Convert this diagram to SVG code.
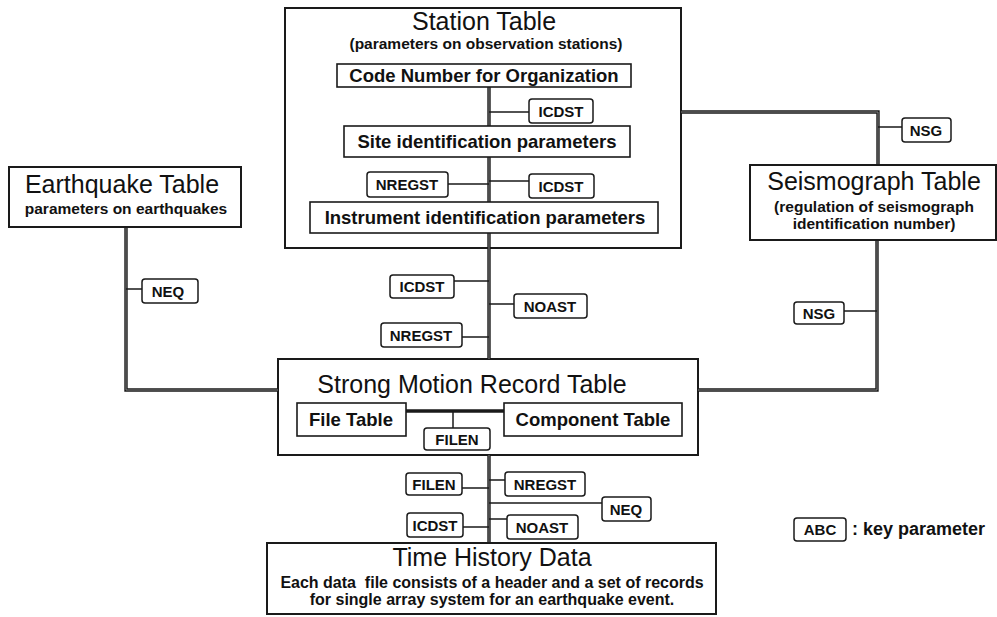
<svg xmlns="http://www.w3.org/2000/svg" width="997" height="617" viewBox="0 0 997 617">
<style>
  .box { fill: #fff; stroke: #1a1a1a; stroke-width: 2; }
  .frame { fill: none; stroke: #1a1a1a; stroke-width: 2; }
  .inner { fill: #fff; stroke: #1a1a1a; stroke-width: 1.6; }
  .key { fill: #fff; stroke: #1a1a1a; stroke-width: 1.5; }
  .main { fill: none; stroke: #1a1a1a; stroke-width: 3.4; }
  .core { fill: none; stroke: #8a8a8a; stroke-width: 0.9; }
  .thin { fill: none; stroke: #1a1a1a; stroke-width: 1.5; }
  text { font-family: "Liberation Sans", Arial, sans-serif; fill: #111; }
  .title { font-size: 25px; text-anchor: middle; }
  .sub { font-size: 15.5px; font-weight: bold; text-anchor: middle; }
  .lbl { font-size: 18.5px; font-weight: bold; text-anchor: middle; }
  .k { font-size: 15px; font-weight: bold; text-anchor: middle; }
</style>
<rect width="997" height="617" fill="#fff"/>

<g id="station-table">
  <rect class="frame" x="285" y="8" width="396" height="240"/>
  <text class="title" x="484" y="29.5">Station Table</text>
  <text class="sub" x="486" y="49">(parameters on observation stations)</text>
</g>

<g id="strong-motion-record-table">
  <rect class="frame" x="278" y="359" width="420" height="96"/>
  <text class="title" x="472" y="393">Strong Motion Record Table</text>
</g>

<g id="connectors">
  <!-- Station internal spine -->
  <path class="main" d="M489,86 V126 M489,157 V202 M489,233 V359"/>
  <path class="core" d="M489,86 V126 M489,157 V202 M489,233 V359"/>
  <!-- Station to Seismograph -->
  <path class="main" d="M681,112 H878 V165"/>
  <path class="core" d="M681,112 H878 V165"/>
  <!-- Seismograph to SMR -->
  <path class="main" d="M877,240 V390 H698"/>
  <path class="core" d="M877,240 V390 H698"/>
  <!-- Earthquake to SMR -->
  <path class="main" d="M126,227 V390 H278"/>
  <path class="core" d="M126,227 V390 H278"/>
  <!-- SMR to Time History -->
  <path class="main" d="M489,455 V543"/>
  <path class="core" d="M489,455 V543"/>
  <!-- File Table to Component Table -->
  <path class="main" d="M406,411 H504"/>
  <path class="thin" d="M453,411 V428"/>
  <!-- key parameter ties -->
  <path class="thin" d="M489,112 H529 M448,184 H489 M489,181 H529 M878,127 H902 M142,289 H126 M454,281 H489 M489,304 H514 M462,337 H489 M844,311 H877 M462,488 H489 M489,480 H505 M489,503 H602 M463,527 H489 M489,519 H507"/>
</g>

<g id="code-number">
  <rect class="inner" x="337" y="64" width="294" height="23"/>
  <text class="lbl" x="484" y="82">Code Number for Organization</text>
</g>
<g id="site-identification">
  <rect class="inner" x="344" y="126" width="286" height="31"/>
  <text class="lbl" x="487" y="148">Site identification parameters</text>
</g>
<g id="instrument-identification">
  <rect class="inner" x="310" y="202" width="348" height="31"/>
  <text class="lbl" x="485" y="224">Instrument identification parameters</text>
</g>

<g id="earthquake-table">
  <rect class="box" x="9" y="167" width="232" height="60"/>
  <text class="title" x="122" y="193">Earthquake Table</text>
  <text class="sub" x="126" y="214">parameters on earthquakes</text>
</g>

<g id="seismograph-table">
  <rect class="box" x="750" y="165" width="246" height="75"/>
  <text class="title" x="874" y="190">Seismograph Table</text>
  <text class="sub" x="874" y="212">(regulation of seismograph</text>
  <text class="sub" x="874" y="229">identification number)</text>
</g>

<g id="file-table">
  <rect class="inner" x="297" y="403" width="109" height="33"/>
  <text class="lbl" x="351" y="426">File Table</text>
</g>
<g id="component-table">
  <rect class="inner" x="504" y="403" width="178" height="33"/>
  <text class="lbl" x="593" y="426">Component Table</text>
</g>

<g id="time-history-data">
  <rect class="box" x="267" y="543" width="449" height="71"/>
  <text class="title" x="492" y="566">Time History Data</text>
  <text class="sub" x="492" y="588" style="font-size:16px" xml:space="preserve">Each data  file consists of a header and a set of records</text>
  <text class="sub" x="492" y="605" style="font-size:16px">for single array system for an earthquake event.</text>
</g>

<!-- key parameter labels -->
<g id="k-icdst-1"><rect class="key" x="529" y="99" width="64" height="24" rx="3"/><text class="k" x="561" y="117">ICDST</text></g>
<g id="k-nregst-1"><rect class="key" x="367" y="172" width="81" height="25" rx="3"/><text class="k" x="407" y="190">NREGST</text></g>
<g id="k-icdst-2"><rect class="key" x="529" y="174" width="65" height="24" rx="3"/><text class="k" x="561" y="192">ICDST</text></g>
<g id="k-nsg-1"><rect class="key" x="902" y="118" width="49" height="24" rx="3"/><text class="k" x="926" y="136">NSG</text></g>
<g id="k-neq-1"><rect class="key" x="142" y="279" width="56" height="24" rx="3"/><text class="k" x="168" y="297">NEQ</text></g>
<g id="k-icdst-3"><rect class="key" x="390" y="275" width="64" height="23" rx="3"/><text class="k" x="422" y="292">ICDST</text></g>
<g id="k-noast-1"><rect class="key" x="514" y="294" width="73" height="24" rx="3"/><text class="k" x="550" y="312">NOAST</text></g>
<g id="k-nregst-2"><rect class="key" x="381" y="323" width="81" height="24" rx="3"/><text class="k" x="421" y="341">NREGST</text></g>
<g id="k-nsg-2"><rect class="key" x="794" y="302" width="50" height="22" rx="3"/><text class="k" x="819" y="319">NSG</text></g>
<g id="k-filen-1"><rect class="key" x="424" y="428" width="66" height="22" rx="3"/><text class="k" x="457" y="445">FILEN</text></g>
<g id="k-filen-2"><rect class="key" x="406" y="473" width="56" height="22" rx="3"/><text class="k" x="434" y="490">FILEN</text></g>
<g id="k-nregst-3"><rect class="key" x="505" y="472" width="80" height="24" rx="3"/><text class="k" x="545" y="490">NREGST</text></g>
<g id="k-neq-2"><rect class="key" x="602" y="497" width="49" height="24" rx="3"/><text class="k" x="626" y="515">NEQ</text></g>
<g id="k-icdst-4"><rect class="key" x="407" y="513" width="56" height="24" rx="3"/><text class="k" x="435" y="531">ICDST</text></g>
<g id="k-noast-2"><rect class="key" x="507" y="515" width="71" height="24" rx="3"/><text class="k" x="542" y="533">NOAST</text></g>

<g id="legend">
  <rect class="key" x="794" y="518" width="52" height="23" rx="3"/>
  <text class="k" x="820" y="535">ABC</text>
  <text x="852" y="535" style="font-size:18px;font-weight:bold">: key parameter</text>
</g>
</svg>
